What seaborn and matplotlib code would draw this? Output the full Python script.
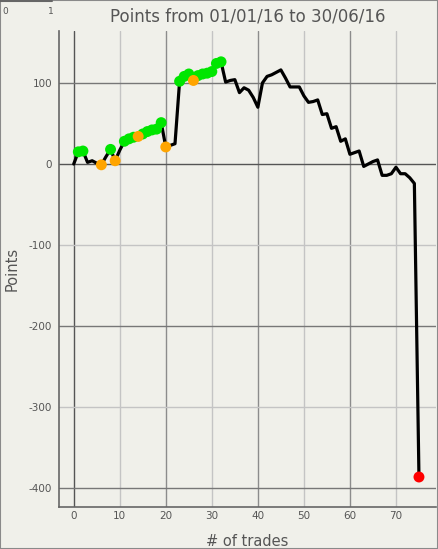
import matplotlib
matplotlib.use("Agg")
import matplotlib.pyplot as plt
import numpy as np
import pandas as pd
import seaborn as sns

# cumulative points after each trade
trades = list(range(76))
points = [0, 15, 16, 2, 4, 1, -1, 9, 18, 4,
          17, 28, 31, 33, 34, 37, 40, 42, 43, 51,
          21, 23, 25, 102, 108, 111, 103, 109, 111, 112,
          114, 124, 126, 101, 103, 104, 88, 94, 91, 82,
          70, 100, 108, 110, 113, 116, 106, 95, 95, 95,
          84, 76, 77, 79, 61, 62, 44, 46, 28, 31,
          12, 14, 16, -3, 0, 3, 5, -14, -14, -12,
          -4, -12, -12, -17, -24, -386]

# which trades get a marker
green_trades = [1, 2, 8, 11, 12, 13, 15, 16, 17, 18, 19, 23, 24, 25, 27, 28, 29, 30, 31, 32]
orange_trades = [6, 9, 14, 20, 26]
red_trades = [75]

x_ticks = [0, 10, 20, 30, 40, 50, 60, 70]
y_ticks = [-400, -300, -200, -100, 0, 100]

bg = "#f0f0ea"
txt = "#555555"

sns.set_style("white", {"axes.facecolor": bg, "figure.facecolor": bg})
plt.rcParams["font.family"] = ["DejaVu Sans"]
plt.rcParams["axes.unicode_minus"] = False

df = pd.DataFrame({"trade": trades, "points": points})

fig = plt.figure(figsize=(4.38, 5.49), dpi=100)
ax = fig.add_axes([59 / 438, 42 / 549, 377 / 438, 476 / 549])
ax.set_facecolor(bg)

# grid lines, heavier on every other one
for v in x_ticks:
    c = "#555555" if v == 0 else ("#8c8c8c" if v % 20 == 0 else "#c4c4c4")
    ax.axvline(v, color=c, lw=1, zorder=0)
for v in y_ticks:
    if v == 0:
        c = "#555555"
    elif v in (100, -200, -400):
        c = "#777777"
    else:
        c = "#c4c4c4"
    ax.axhline(v, color=c, lw=1, zorder=0)

sns.lineplot(data=df, x="trade", y="points", color="black", lw=2.3, ax=ax, zorder=2)

for sel, col in [(green_trades, "#00e600"), (orange_trades, "#ffa500"), (red_trades, "#ff0000")]:
    sub = df[df["trade"].isin(sel)]
    sns.scatterplot(data=sub, x="trade", y="points", color=col, s=62, edgecolor="none",
                    ax=ax, zorder=3, legend=False)

ax.set_xlim(-3.2, 78.7)
ax.set_ylim(-423, 164)
ax.set_xticks(x_ticks)
ax.set_yticks(y_ticks)
ax.tick_params(axis="both", length=0, labelsize=7.5, labelcolor=txt)
ax.tick_params(axis="x", pad=3)
ax.tick_params(axis="y", pad=5)

for s in ["top", "right"]:
    ax.spines[s].set_visible(False)
for s in ["left", "bottom"]:
    ax.spines[s].set_color("#666666")
    ax.spines[s].set_linewidth(1.2)

ax.set_title("Points from 01/01/16 to 30/06/16", fontsize=12, color=txt, pad=7)
ax.set_xlabel("# of trades", fontsize=10.5, color=txt, va="center")
ax.set_ylabel("Points", fontsize=10.5, color=txt, va="center")
ax.xaxis.set_label_coords(0.5, -34 / 476)
ax.yaxis.set_label_coords(-47 / 377, 0.5)

# leftover little axis in the top left corner
fig.add_artist(plt.Line2D([0, 52 / 438], [1 - 1 / 549, 1 - 1 / 549], transform=fig.transFigure,
                          color="#666666", lw=1.5))
fig.text(2 / 438, 1 - 11 / 549, "0", fontsize=6.5, color=txt, ha="left", va="center")
fig.text(51 / 438, 1 - 11 / 549, "1", fontsize=6.5, color=txt, ha="center", va="center")

# grey frame round the whole picture
fig.patches.append(plt.Rectangle((0, 0), 1, 1, transform=fig.transFigure, fill=False,
                                 edgecolor="#8a8a8a", lw=1.5))

fig.savefig("out.png", dpi=100, facecolor=bg)
